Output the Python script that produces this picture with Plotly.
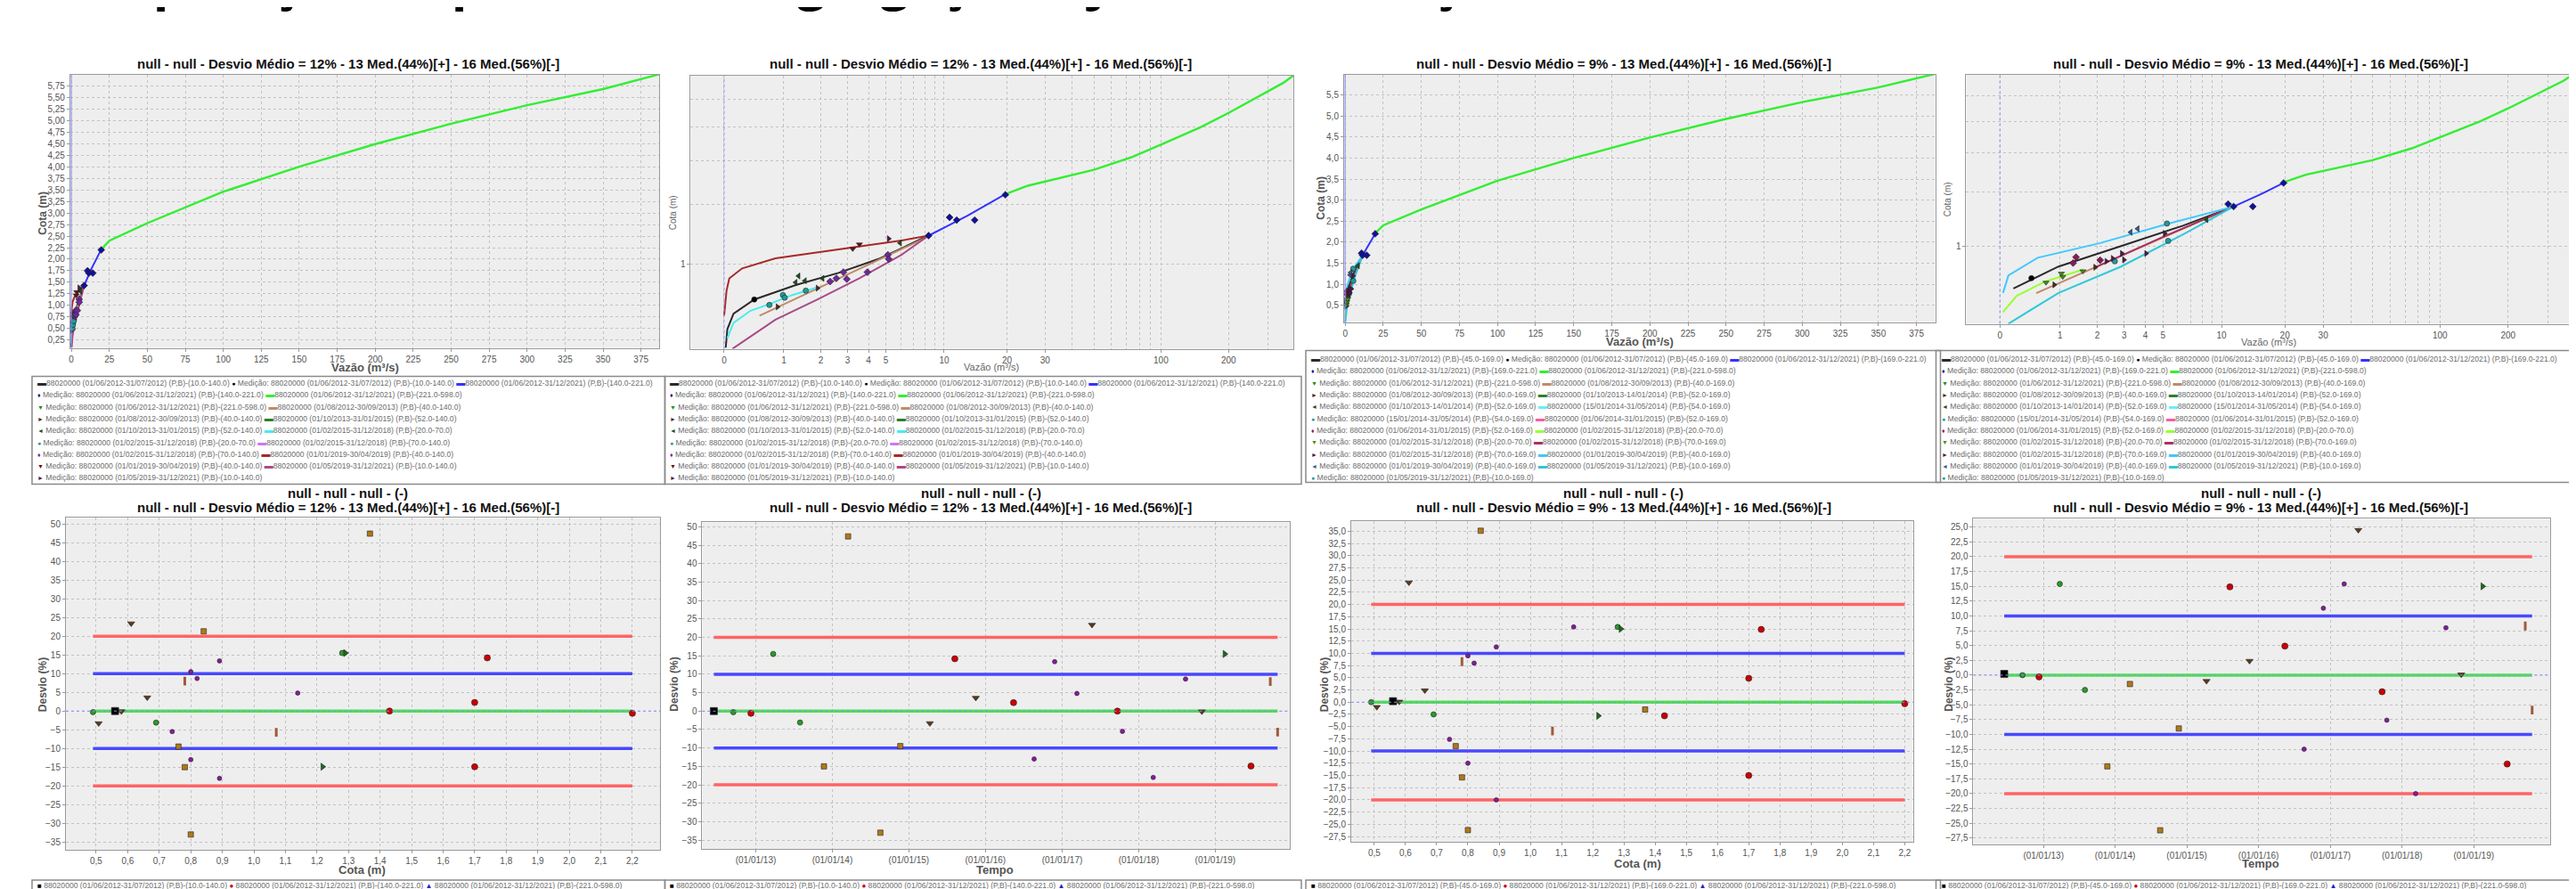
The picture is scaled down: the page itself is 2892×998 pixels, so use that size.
import plotly.graph_objects as go

W, H = 2892, 998
NARROW = "Liberation Sans Narrow, Liberation Sans, Arial, sans-serif"
OFF = 1.2  # offset used by the log-scaled rating-curve panels

# ------------------------------------------------------------------ DATA
green_Q = [19.6, 25, 50, 75, 100, 150, 200, 250, 300, 350, 387]
green_H = [2.21, 2.40, 2.78, 3.12, 3.46, 4.00, 4.49, 4.93, 5.33, 5.68, 6.00]

s1_periods = ["(01/06/2012-31/07/2012) (P,B)-(10.0-140.0)", "(01/06/2012-31/12/2021) (P,B)-(140.0-221.0)",
              "(01/06/2012-31/12/2021) (P,B)-(221.0-598.0)", "(01/08/2012-30/09/2013) (P,B)-(40.0-140.0)",
              "(01/10/2013-31/01/2015) (P,B)-(52.0-140.0)", "(01/02/2015-31/12/2018) (P,B)-(20.0-70.0)",
              "(01/02/2015-31/12/2018) (P,B)-(70.0-140.0)", "(01/01/2019-30/04/2019) (P,B)-(40.0-140.0)",
              "(01/05/2019-31/12/2021) (P,B)-(10.0-140.0)"]
s1_line_colors = ['#2a2a2a', '#3333ff', '#33ee33', '#c08a6a', '#2e7d32', '#44eeee', '#cc77ee', '#a82828', '#a84a88']
s1_med_colors = ['#000000', '#10109a', '#1e8a1e', '#4a2a1a', '#1f4f1f', '#209a9a', '#6a2a9a', '#6a1010', '#4a1a4a']
s1_med_symbols = ['circle', 'diamond', 'triangle-down', 'triangle-right', 'triangle-left', 'circle', 'diamond',
                  'triangle-down', 'triangle-right']

s1c1_Q = [0.02, 0.04, 0.12, 0.43, 1.30, 2.63, 4.66, 8.37]
s1c1_H = [0.10, 0.26, 0.41, 0.56, 0.73, 0.88, 1.08, 1.43]
s1c2_Q = [8.37, 13.0, 19.6]
s1c2_H = [1.43, 1.78, 2.21]
s1c4_Q = [0.52, 2.80, 8.16]
s1c4_H = [0.39, 0.835, 1.40]
s1c6_Q = [0.04, 0.12, 0.37, 0.70, 1.20, 1.90]
s1c6_H = [0.18, 0.32, 0.44, 0.51, 0.61, 0.70]
s1c8_Q = [0.0, 0.03, 0.065, 0.24, 0.82, 1.90, 3.54, 6.06, 8.37]
s1c8_H = [0.39, 0.66, 0.81, 0.94, 1.08, 1.17, 1.26, 1.35, 1.43]
s1c9_Q = [0.105, 0.43, 0.82, 1.90, 3.54, 6.06, 8.37]
s1c9_H = [0.09, 0.22, 0.35, 0.56, 0.81, 1.13, 1.43]

s1m1_Q, s1m1_H = [0.43], [0.56]
s1m2_Q, s1m2_H = [8.37, 10.64, 11.53, 14.08, 19.66], [1.43, 1.75, 1.70, 1.70, 2.20]
s1m4_Q, s1m4_H = [0.865, 1.90], [0.48, 0.69]
s1m5_Q, s1m5_H = [1.355, 1.28, 1.525, 2.06, 5.96], [0.84, 0.76, 0.78, 0.81, 1.31]
s1m6_Q, s1m6_H = [0.70, 0.98, 1.02, 1.55], [0.50, 0.61, 0.58, 0.66]
s1m7_Q, s1m7_H = [2.32, 2.55, 2.83, 2.97, 3.94, 5.13, 5.18], [0.77, 0.81, 0.89, 0.80, 0.89, 1.13, 1.07]
s1m8_Q, s1m8_H = [3.23, 3.54], [1.22, 1.29]
s1m9_Q, s1m9_H = [5.18], [1.38]

s2_periods = ["(01/06/2012-31/07/2012) (P,B)-(45.0-169.0)", "(01/06/2012-31/12/2021) (P,B)-(169.0-221.0)",
              "(01/06/2012-31/12/2021) (P,B)-(221.0-598.0)", "(01/08/2012-30/09/2013) (P,B)-(40.0-169.0)",
              "(01/10/2013-14/01/2014) (P,B)-(52.0-169.0)", "(15/01/2014-31/05/2014) (P,B)-(54.0-169.0)",
              "(01/06/2014-31/01/2015) (P,B)-(52.0-169.0)", "(01/02/2015-31/12/2018) (P,B)-(20.0-70.0)",
              "(01/02/2015-31/12/2018) (P,B)-(70.0-169.0)", "(01/01/2019-30/04/2019) (P,B)-(40.0-169.0)",
              "(01/05/2019-31/12/2021) (P,B)-(10.0-169.0)"]
s2_line_colors = ['#2a2a2a', '#3333ff', '#33ee33', '#c08a6a', '#2e7d32', '#66eeff', '#ff5aa0', '#99ff33',
                  '#a83060', '#40c8ff', '#30c8d8']
s2_med_colors = ['#000000', '#10109a', '#1e8a1e', '#4a2a1a', '#1f4f1f', '#209a9a', '#8a1a5a', '#4a8a1a',
                 '#4a1a4a', '#3a5a8a', '#209a9a']
s2_med_symbols = ['circle', 'diamond', 'triangle-down', 'triangle-right', 'triangle-left', 'circle', 'diamond',
                  'triangle-down', 'triangle-right', 'triangle-left', 'circle']

s2c1_Q = [0.175, 0.967, 2.87, 6.44, 11.45]
s2c1_H = [0.441, 0.71, 1.00, 1.336, 1.69]
s2c2_Q = [11.45, 15.0, 19.7]
s2c2_H = [1.69, 1.92, 2.20]
s2c4_Q = [0.53, 2.87, 11.45]
s2c4_H = [0.39, 0.86, 1.69]
s2c8_Q = [0.038, 0.222, 0.71, 1.586]
s2c8_H = [0.195, 0.36, 0.526, 0.672]
s2c9_Q = [1.94, 4.99, 11.45]
s2c9_H = [0.70, 1.14, 1.69]
s2c10_Q = [0.038, 0.108, 0.556, 2.096, 5.26, 11.45]
s2c10_H = [0.392, 0.597, 0.829, 1.046, 1.361, 1.69]
s2c11_Q = [0.108, 0.967, 2.87, 6.44, 11.45]
s2c11_H = [0.087, 0.392, 0.71, 1.187, 1.69]

s2m1_Q, s2m1_H = [0.449], [0.562]
s2m2_Q, s2m2_H = [10.77, 11.45, 14.15, 19.74], [1.74, 1.69, 1.69, 2.20]
s2m4_Q, s2m4_H = [0.876, 1.935], [0.484, 0.701]
s2m5_Q, s2m5_H = [8.42], [1.44]
s2m6_Q, s2m6_H = [2.62, 5.26, 5.34], [0.78, 1.37, 1.08]
s2m7_Q, s2m7_H = [1.384, 1.31, 2.096], [0.838, 0.757, 0.796]
s2m8_Q, s2m8_H = [0.71, 1.03, 1.06, 1.57], [0.51, 0.62, 0.58, 0.65]
s2m9_Q, s2m9_H = [2.31, 2.54, 2.90, 2.99, 4.04, 5.12], [0.78, 0.82, 0.89, 0.80, 0.89, 1.20]
s2m10_Q, s2m10_H = [3.28, 3.61], [1.22, 1.28]

# ---- the 29 gaugings: cota (m), date, deviation vs set 1 (%), deviation vs set 2 (%), marker group
meas_cota = [0.56, 0.49, 2.20, 1.28, 0.69, 0.781, 1.368, 0.80, 0.761, 0.508, 1.74, 0.662, 1.70, 0.80, 0.891,
             1.139, 0.611, 1.43, 0.741, 0.891, 0.82, 0.58, 1.29, 1.70, 0.781, 1.071, 0.80, 0.841, 1.218]
meas_date = ['2012-06-15', '2012-09-16', '2012-12-09', '2013-03-25', '2013-07-31', '2013-11-22', '2014-03-17',
             '2014-08-18', '2014-11-21', '2015-04-11', '2015-08-08', '2015-11-16', '2016-05-14', '2016-08-20',
             '2016-11-26', '2017-03-12', '2017-05-23', '2017-09-21', '2017-10-15', '2018-03-11', '2018-08-12',
             '2018-10-29', '2019-02-15', '2019-06-20', '2019-09-20', '2019-10-25', None, None, None]
meas_dev12 = [0.0, -0.3, -0.6, 15.5, -3.1, -15.0, 47.4, -33.0, -9.5, -3.3, 14.2, 3.6, 2.3, -13.0, 13.4, 4.8, 23.4,
              0.0, -5.5, -18.0, 8.7, -0.1, 15.5, -14.9, 8.0, -5.7, 10.5, 21.3, -14.9]
meas_dev9 = [0.2, 0.0, -0.3, 15.4, -2.5, -15.4, -1.5, -26.2, -9.0, -1.0, 14.9, 2.4, 4.9, -12.5, 11.3, 15.4, 24.5,
             -2.8, -7.6, -20.0, 8.0, 0.1, 15.0, -15.0, 8.3, -5.9, 9.5, 35.1, -2.8]
meas_group = [1, 4, 2, 4, 4, 5, 5, 5, 5, 6, 2, 6, 2, 7, 7, 7, 6, 2, 7, 7, 7, 6, 8, 2, 9, 9, 7, 5, 8]

title_12 = "null - null - Desvio Médio = 12% - 13 Med.(44%)[+] - 16 Med.(56%)[-]"
title_9 = "null - null - Desvio Médio = 9% - 13 Med.(44%)[+] - 16 Med.(56%)[-]"
year_ticks = ['2013-01-01', '2014-01-01', '2015-01-01', '2016-01-01', '2017-01-01', '2018-01-01', '2019-01-01']
year_text = ['(01/01/13)', '(01/01/14)', '(01/01/15)', '(01/01/16)', '(01/01/17)', '(01/01/18)', '(01/01/19)']

# ------------------------------------------------------------------ LAYOUT HELPERS
PANELS = {
    1: (69, 731, 75, 382), 2: (766, 1443, 76, 383), 3: (1500, 2164, 75, 353), 4: (2199, 2881, 75, 355),
    5: (64, 732, 573, 946), 6: (779, 1439, 578, 945), 7: (1508, 2139, 577, 937), 8: (2207, 2855, 574, 940),
}


def px(x):
    return x / W


def py(y):
    return 1 - y / H


def ref(n, a):
    return a if n == 1 else f"{a}{n}"


def axname(n, a):
    return f"{a}axis" if n == 1 else f"{a}axis{n}"


fig = go.Figure()
annotations, shapes = [], []

base = dict(showline=True, mirror=True, linecolor='#9a9a9a', linewidth=1, showgrid=True, gridcolor='#c2c2c2',
            griddash='dot', gridwidth=1, zeroline=False, ticks='outside', ticklen=3, tickcolor='#9a9a9a',
            tickfont=dict(family=NARROW, size=10, color='#555555'))

layout_axes = {}
for n, (x0, x1, y0, y1) in PANELS.items():
    layout_axes[axname(n, 'x')] = dict(domain=[px(x0), px(x1)], anchor=ref(n, 'y'), **base)
    layout_axes[axname(n, 'y')] = dict(domain=[py(y1), py(y0)], anchor=ref(n, 'x'), **base)

for n, dt, fmt, yr in [(1, 0.25, '.2f', [0.08, 5.99]), (3, 0.5, '.1f', [0.10, 5.98])]:
    layout_axes[axname(n, 'x')].update(range=[-0.7, 387.2], dtick=25, tick0=0)
    layout_axes[axname(n, 'y')].update(range=yr, dtick=dt, tick0=0, tickformat=fmt)

q_ticks = [0, 1, 2, 3, 4, 5, 10, 20, 30, 100, 200]
q_minor = [6, 7, 8, 9, 40, 50, 60, 70, 80, 90, 300]
for n, yr in [(2, [0.1106, 0.857]), (4, [0.109, 0.856])]:
    layout_axes[axname(n, 'x')].update(type='log', range=[-0.068, 2.589],
                                       tickvals=[q + OFF for q in q_ticks], ticktext=[str(q) for q in q_ticks],
                                       minor=dict(tickvals=[q + OFF for q in q_minor], showgrid=True,
                                                  gridcolor='#c2c2c2', griddash='dot', ticks=''))
    layout_axes[axname(n, 'y')].update(type='log', range=yr, tickvals=[1 + OFF], ticktext=['1'],
                                       minor=dict(tickvals=[h + OFF for h in [2, 3, 4, 5]], showgrid=True,
                                                  gridcolor='#c2c2c2', griddash='dot', ticks=''))

layout_axes['xaxis5'].update(range=[0.404, 2.289], dtick=0.1, tick0=0, tickformat='.1f')
layout_axes['yaxis5'].update(range=[-37.1, 51.6], dtick=5, tick0=0)
layout_axes['xaxis6'].update(type='date', range=['2012-04-21', '2019-12-22'], tickvals=year_ticks, ticktext=year_text)
layout_axes['yaxis6'].update(range=[-37.4, 51.2], dtick=5, tick0=0)
layout_axes['xaxis7'].update(range=[0.426, 2.226], dtick=0.1, tick0=0, tickformat='.1f')
layout_axes['yaxis7'].update(range=[-28.6, 37.0], dtick=2.5, tick0=0, tickformat='.1f')
layout_axes['xaxis8'].update(type='date', range=['2012-01-10', '2020-01-25'], tickvals=year_ticks, ticktext=year_text)
layout_axes['yaxis8'].update(range=[-28.6, 26.4], dtick=2.5, tick0=0, tickformat='.1f')


def add(n, x, y, mode, color, symbol='circle', size=6, width=2, name=None):
    kw = dict(x=x, y=y, mode=mode, xaxis=ref(n, 'x'), yaxis=ref(n, 'y'), showlegend=False, name=name,
              hoverinfo='skip')
    if mode == 'lines':
        kw['line'] = dict(color=color, width=width)
    else:
        mk = dict(color=color, symbol=symbol, size=size, line=dict(color='#222222', width=0.6))
        if symbol == 'line-ns':
            mk = dict(color=color, symbol='line-ns', size=7, line=dict(color=color, width=3))
        kw['marker'] = mk
    fig.add_trace(go.Scatter(**kw))


set1_curves = [(0, s1c1_Q, s1c1_H), (1, s1c2_Q, s1c2_H), (2, green_Q, green_H), (3, s1c4_Q, s1c4_H),
               (5, s1c6_Q, s1c6_H), (7, s1c8_Q, s1c8_H), (8, s1c9_Q, s1c9_H)]
set1_meds = [(0, s1m1_Q, s1m1_H), (1, s1m2_Q, s1m2_H), (3, s1m4_Q, s1m4_H), (4, s1m5_Q, s1m5_H),
             (5, s1m6_Q, s1m6_H), (6, s1m7_Q, s1m7_H), (7, s1m8_Q, s1m8_H), (8, s1m9_Q, s1m9_H)]
set2_curves = [(0, s2c1_Q, s2c1_H), (1, s2c2_Q, s2c2_H), (2, green_Q, green_H), (3, s2c4_Q, s2c4_H),
               (7, s2c8_Q, s2c8_H), (8, s2c9_Q, s2c9_H), (9, s2c10_Q, s2c10_H), (10, s2c11_Q, s2c11_H)]
set2_meds = [(0, s2m1_Q, s2m1_H), (1, s2m2_Q, s2m2_H), (3, s2m4_Q, s2m4_H), (4, s2m5_Q, s2m5_H),
             (5, s2m6_Q, s2m6_H), (6, s2m7_Q, s2m7_H), (7, s2m8_Q, s2m8_H), (8, s2m9_Q, s2m9_H),
             (9, s2m10_Q, s2m10_H)]

for (nlin, nlog, curves, meds, periods, lcol, mcol, msym) in [
        (1, 2, set1_curves, set1_meds, s1_periods, s1_line_colors, s1_med_colors, s1_med_symbols),
        (3, 4, set2_curves, set2_meds, s2_periods, s2_line_colors, s2_med_colors, s2_med_symbols)]:
    for n, shift in [(nlin, 0.0), (nlog, OFF)]:
        for i, Q, Hh in curves:
            add(n, [q + shift for q in Q], [h + shift for h in Hh], 'lines', lcol[i],
                width=2.4 if i == 2 else 2, name='88020000 ' + periods[i])
        for i, Q, Hh in meds:
            add(n, [q + shift for q in Q], [h + shift for h in Hh], 'markers', mcol[i], symbol=msym[i], size=6,
                name='Medição: 88020000 ' + periods[i])

for n, xv in [(1, 0), (3, 0), (2, OFF), (4, OFF)]:
    shapes.append(dict(type='line', xref=ref(n, 'x'), yref=f"{ref(n, 'y')} domain", x0=xv, x1=xv, y0=0, y1=1,
                       line=dict(color='#8c8cff', width=1, dash='dot' if n in (2, 4) else 'solid')))

dated = [i for i, d in enumerate(meas_date) if d is not None]
lim_c = [min(meas_cota), max(meas_cota)]
lim_d = [meas_date[dated[0]], meas_date[dated[-1]]]
for n, lx in [(5, lim_c), (6, lim_d), (7, lim_c), (8, lim_d)]:
    shapes.append(dict(type='line', xref=f"{ref(n, 'x')} domain", yref=ref(n, 'y'), x0=0, x1=1, y0=0, y1=0,
                       line=dict(color='#8c8cff', width=1, dash='dot')))
    for yv, col in [(20, '#ff6464'), (-20, '#ff6464'), (10, '#4848ff'), (-10, '#4848ff'), (0, '#50e050')]:
        add(n, lx, [yv, yv], 'lines', col, width=3.5)

dev_style = {1: ('#000000', 'square', 8), 2: ('#cc0000', 'circle', 7), 4: ('#2a9a2a', 'circle', 6),
             5: ('#b07818', 'square', 6), 6: ('#5a3a1a', 'triangle-down', 7), 7: ('#8a1aa0', 'circle', 5),
             8: ('#1a6a1a', 'triangle-right', 7), 9: ('#a05a3a', 'line-ns', 7)}
for g in sorted(dev_style):
    idx = [i for i, gg in enumerate(meas_group) if gg == g]
    idd = [i for i in idx if meas_date[i] is not None]
    c, s, z = dev_style[g]
    nm = '88020000 ' + s1_periods[g - 1]
    add(5, [meas_cota[i] for i in idx], [meas_dev12[i] for i in idx], 'markers', c, symbol=s, size=z, name=nm)
    add(6, [meas_date[i] for i in idd], [meas_dev12[i] for i in idd], 'markers', c, symbol=s, size=z, name=nm)
    add(7, [meas_cota[i] for i in idx], [meas_dev9[i] for i in idx], 'markers', c, symbol=s, size=z, name=nm)
    add(8, [meas_date[i] for i in idd], [meas_dev9[i] for i in idd], 'markers', c, symbol=s, size=z, name=nm)


def ann(x, y, text, size=10, color='#555555', xanchor='center', yanchor='middle', angle=0, family=NARROW):
    annotations.append(dict(x=px(x), y=py(y), xref='paper', yref='paper', text=text, showarrow=False,
                            xanchor=xanchor, yanchor=yanchor, textangle=angle,
                            font=dict(family=family, size=size, color=color)))


annotations.append(dict(x=px(30), y=py(9), xref='paper', yref='paper', yanchor='bottom', xanchor='left',
                        showarrow=False, text='<b>Comparação de período de segregação, ajuste e validação</b>',
                        font=dict(family='Open Sans', size=58, color='#000000')))

TS = 15
for cx, t in [(381, title_12), (1092, title_12), (1814, title_9), (2530, title_9)]:
    ann(cx, 63, f'<b>{t}</b>', size=TS, color='#111111')
    ann(cx, 545, '<b>null - null - null - (-)</b>', size=TS, color='#111111')
    ann(cx, 561, f'<b>{t}</b>', size=TS, color='#111111')

ann(400, 404, '<b>Vazão (m³/s)</b>', size=13, color='#555555')
ann(1104, 403, 'Vazão (m³/s)', size=11, color='#666666')
ann(1832, 375, '<b>Vazão (m³/s)</b>', size=13, color='#555555')
ann(2539, 375, 'Vazão (m³/s)', size=11, color='#666666')
ann(38, 230, '<b>Cota (m)</b>', size=12, angle=-90)
ann(746, 230, 'Cota (m)', size=10, angle=-90, color='#666666')
ann(1474, 213, '<b>Cota (m)</b>', size=12, angle=-90)
ann(2178, 215, 'Cota (m)', size=10, angle=-90, color='#666666')
ann(397, 968, '<b>Cota (m)</b>', size=13)
ann(1108, 968, '<b>Tempo</b>', size=13)
ann(1830, 961, '<b>Cota (m)</b>', size=13)
ann(2530, 961, '<b>Tempo</b>', size=13)
for xx in [38, 748, 1478, 2180]:
    ann(xx, 760, '<b>Desvio (%)</b>', size=12, angle=-90)

GLYPH = {'circle': '●', 'diamond': '♦', 'triangle-down': '▼', 'triangle-right': '►', 'triangle-left': '◄',
         'square': '■', 'triangle-up': '▲'}
LEG_FS = 8.6


def legend_rows(periods, lcol, mcol, msym):
    items = []
    for i, p in enumerate(periods):
        items.append(f"<span style='color:{lcol[i]};font-size:10px'>▬</span>88020000 {p}")
        items.append(f"<span style='color:{mcol[i]};font-size:7px'>{GLYPH[msym[i]]}</span> Medição: 88020000 {p}")
    return [items[:3]] + [items[k:k + 2] for k in range(3, len(items), 2)]


def draw_legend(x0, x1, y0, y1, rows, row0, dy=13.33):
    shapes.append(dict(type='rect', xref='paper', yref='paper', x0=px(x0), x1=px(x1), y0=py(y1), y1=py(y0),
                       line=dict(color='#8a8a8a', width=1.5), fillcolor='rgba(0,0,0,0)'))
    for r, row in enumerate(rows):
        ann(x0 + 4, row0 + r * dy, ' '.join(row), size=LEG_FS, color='#6e6e6e', xanchor='left')


rows1 = legend_rows(s1_periods, s1_line_colors, s1_med_colors, s1_med_symbols)
rows2 = legend_rows(s2_periods, s2_line_colors, s2_med_colors, s2_med_symbols)
draw_legend(26, 737, 414, 535, rows1, 421)
draw_legend(737, 1452, 414, 535, rows1, 421)
draw_legend(1457, 2170, 385, 533, rows2, 394)
draw_legend(2165, 2890, 385, 533, rows2, 394)


def dev_rows(periods, colors, syms):
    out = []
    for i in range(6):
        out.append(f"<span style='color:{colors[i]};font-size:8px'>{GLYPH[syms[i]]}</span> 88020000 {periods[i]}")
    return [out[:3], out[3:6]]


dcols = ['#000000', '#cc0000', '#2222cc', '#2a9a2a', '#b07818', '#5a3a1a']
dsyms = ['square', 'circle', 'triangle-up', 'triangle-up', 'diamond', 'square']
for x0, x1, per in [(26, 737, s1_periods), (737, 1452, s1_periods), (1457, 2170, s2_periods),
                    (2165, 2890, s2_periods)]:
    draw_legend(x0, x1, 980, 1020, dev_rows(per, dcols, dsyms), 986, dy=13)

fig.update_layout(width=W, height=H, margin=dict(l=0, r=0, t=0, b=0), paper_bgcolor='white',
                  plot_bgcolor='#eeeeee', separators=',.', showlegend=False, annotations=annotations,
                  shapes=shapes, **layout_axes)
fig.write_html("out.html")
